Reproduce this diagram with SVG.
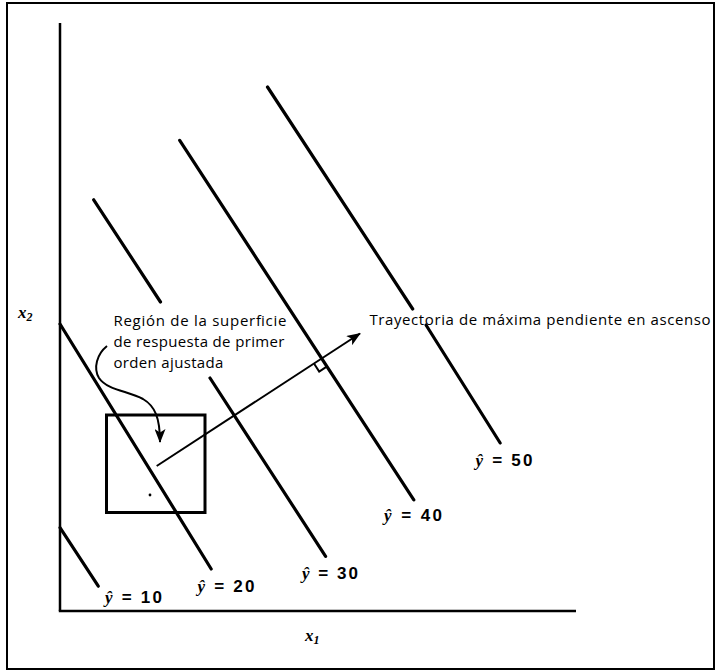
<svg xmlns="http://www.w3.org/2000/svg" width="717" height="671" viewBox="0 0 717 671">
<style>
.ln{stroke:#000;stroke-width:3.2;fill:none;stroke-linecap:round}
.ax{stroke:#000;stroke-width:2.5;fill:none}
.thin{stroke:#000;stroke-width:2;fill:none}
.t{font-family:"Open Sans","Liberation Sans",sans-serif;font-size:15px;fill:#000}
.lab{font-family:"Liberation Sans","DejaVu Sans",sans-serif;font-size:17px;font-weight:bold;fill:#000}
.var{font-family:"Liberation Serif","DejaVu Serif",serif;font-style:italic;font-weight:bold;font-size:17px;fill:#000}
</style>
<defs>
<marker id="ah" viewBox="0 0 14 11" refX="13" refY="5.5" markerWidth="14" markerHeight="11" markerUnits="userSpaceOnUse" orient="auto">
<path d="M0,0 L14,5.5 L0,11 L3.5,5.5 Z" fill="#000"/>
</marker>
</defs>
<rect x="7" y="3" width="707" height="666" fill="#fff" stroke="#000" stroke-width="2"/>
<g id="axes">
<line class="ax" x1="60" y1="23" x2="60" y2="611"/>
<line class="ax" x1="58.8" y1="611" x2="576" y2="611"/>
<text class="var" x="18" y="318">x<tspan font-size="12" dy="3">2</tspan></text>
<text class="var" x="305" y="641">x<tspan font-size="12" dy="3">1</tspan></text>
</g>
<g id="contour10">
<line class="ln" x1="60" y1="527.6" x2="98.3" y2="586.2"/>
<text class="lab" x="105" y="602.5" textLength="57"><tspan class="var">ŷ</tspan> = 10</text>
</g>
<g id="contour20">
<line class="ln" x1="60" y1="324" x2="211.2" y2="569"/>
<text class="lab" x="197.5" y="591.8" textLength="57"><tspan class="var">ŷ</tspan> = 20</text>
</g>
<g id="contour30">
<line class="ln" x1="93.7" y1="199.8" x2="160.5" y2="302"/>
<line class="ln" x1="210" y1="378" x2="325.6" y2="556.3"/>
<text class="lab" x="302" y="578.5" textLength="56"><tspan class="var">ŷ</tspan> = 30</text>
</g>
<g id="contour40">
<line class="ln" x1="179.7" y1="140.4" x2="413.8" y2="499.8"/>
<text class="lab" x="384" y="520.8" textLength="58"><tspan class="var">ŷ</tspan> = 40</text>
</g>
<g id="contour50">
<line class="ln" x1="267.5" y1="87" x2="412.7" y2="309"/>
<line class="ln" x1="426" y1="325" x2="500.2" y2="443"/>
<text class="lab" x="475.5" y="465.6" textLength="57"><tspan class="var">ŷ</tspan> = 50</text>
</g>
<g id="region">
<rect x="106.5" y="415" width="98.5" height="97.5" fill="none" stroke="#000" stroke-width="3"/>
<circle cx="150" cy="495" r="1.4" fill="#000"/>
<text class="t" x="113.4" y="326" textLength="173">Región de la superficie</text>
<text class="t" x="113.4" y="347" textLength="171">de respuesta de primer</text>
<text class="t" x="113.4" y="368" textLength="110">orden ajustada</text>
</g>
<g id="path-label">
<text class="t" x="369.5" y="325" textLength="341">Trayectoria de máxima pendiente en ascenso</text>
</g>
<g id="connectors">
<path class="thin" d="M107,346 C97,354 93,368 99,378 C107,390 128,391 143,399 C155,406 160,418 160,442" marker-end="url(#ah)"/>
<line class="thin" x1="156.7" y1="466" x2="360" y2="333.5" marker-end="url(#ah)"/>
<polyline class="thin" points="314.3,364 319.2,371.5 326.7,366.6"/>
</g>
</svg>
